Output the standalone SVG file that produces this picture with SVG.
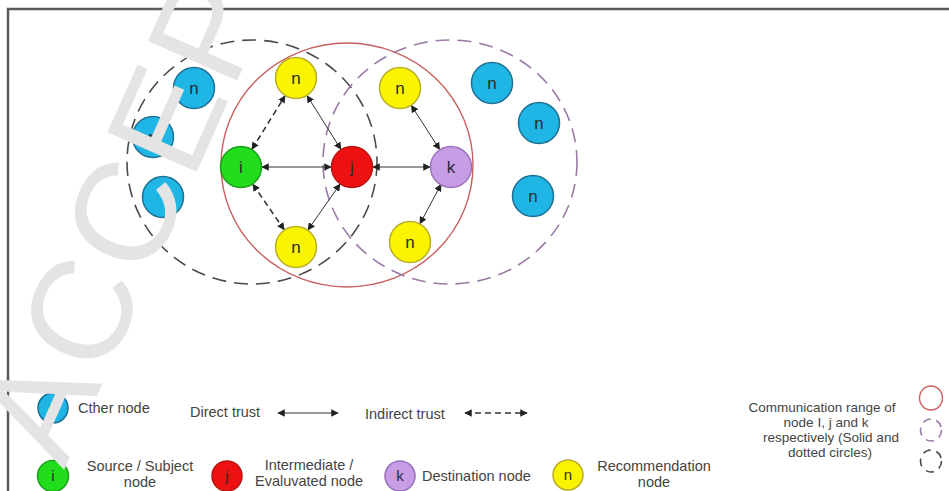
<svg xmlns="http://www.w3.org/2000/svg" width="949" height="491" viewBox="0 0 949 491">
  <defs>
    <marker id="head" viewBox="0 0 10 10" refX="9" refY="5" markerWidth="7.5" markerHeight="7.5" markerUnits="userSpaceOnUse" orient="auto-start-reverse">
      <path d="M0,0 L10,5 L0,10 z" fill="#222"/>
    </marker>
    <style>
      .frame { fill: none; stroke: #5a5a5a; stroke-width: 2.5; }
      .rng-i { fill: none; stroke: #c8605e; stroke-width: 1.4; }
      .rng-j { fill: none; stroke: #9a7aa6; stroke-width: 1.6; stroke-dasharray: 14 8; }
      .rng-k { fill: none; stroke: #4a4a4a; stroke-width: 1.6; stroke-dasharray: 14 8; }
      .direct { fill: none; stroke: #333; stroke-width: 1; marker-start: url(#head); marker-end: url(#head); }
      .indirect { fill: none; stroke: #333; stroke-width: 1.5; stroke-dasharray: 6 4; marker-start: url(#head); marker-end: url(#head); }
      .other { fill: #1fb6e6; stroke: #1f6f92; stroke-width: 1.5; }
      .rec { fill: #fbf400; stroke: #b9ad2a; stroke-width: 1.5; }
      .src { fill: #22dd1c; stroke: #1c9f1c; stroke-width: 1.5; }
      .mid { fill: #ee1111; stroke: #b81414; stroke-width: 1.5; }
      .dst { fill: #c79de6; stroke: #9c72bf; stroke-width: 1.5; }
      .lbl { font-family: "Liberation Sans", Arial, sans-serif; font-size: 17px; fill: #2b2b2b; text-anchor: middle; }
      .lbl-s { font-family: "Liberation Sans", Arial, sans-serif; font-size: 15px; fill: #2b2b2b; text-anchor: middle; }
      .txt { font-family: "Liberation Sans", Arial, sans-serif; font-size: 14.5px; fill: #444; }
      .txt-r { font-family: "Liberation Sans", Arial, sans-serif; font-size: 13.5px; fill: #444; text-anchor: middle; }
      .ctr { text-anchor: middle; }
      .wm { font-family: "Liberation Sans", Arial, sans-serif; font-size: 142px; letter-spacing: 5px; fill: #e4e4e4; }
    </style>
  </defs>

  <rect width="949" height="491" fill="#ffffff"/>
  <!-- outer frame (open to the right and bottom) -->
  <rect class="frame" x="8" y="9" width="960" height="500"/>

  <!-- communication ranges -->
  <g id="ranges">
    <ellipse id="range-k" class="rng-k" cx="252" cy="162" rx="125" ry="122"/>
    <ellipse id="range-i" class="rng-i" cx="347" cy="165" rx="126" ry="122"/>
    <ellipse id="range-j" class="rng-j" cx="450" cy="162" rx="127" ry="122"/>
  </g>

  <!-- trust links -->
  <g id="connectors">
    <line class="direct" x1="262" y1="167" x2="331" y2="167"/>
    <line class="direct" x1="373" y1="167" x2="430" y2="167"/>
    <line class="direct" x1="307.2" y1="95.8" x2="340.8" y2="149.2"/>
    <line class="direct" x1="340" y1="184.2" x2="308" y2="229.8"/>
    <line class="indirect" x1="252" y1="149.1" x2="285" y2="95.9"/>
    <line class="indirect" x1="252.9" y1="184.3" x2="284.1" y2="229.7"/>
    <line class="direct" x1="411.4" y1="105.6" x2="439.6" y2="149.4"/>
    <line class="direct" x1="441" y1="184.5" x2="420" y2="223.6"/>
  </g>

  <!-- nodes -->
  <g id="other-1"><circle class="other" cx="194" cy="88" r="20.5"/><text class="lbl" x="194" y="94">n</text></g>
  <g id="other-2"><circle class="other" cx="153" cy="137" r="20.5"/><text class="lbl" x="153" y="143">n</text></g>
  <g id="other-3"><circle class="other" cx="163" cy="197" r="20.5"/></g>
  <g id="rec-top"><circle class="rec" cx="296" cy="78" r="20.5"/><text class="lbl" x="296" y="84">n</text></g>
  <g id="rec-bottom"><circle class="rec" cx="296" cy="247" r="20.5"/><text class="lbl" x="296" y="253">n</text></g>
  <g id="node-i"><circle class="src" cx="241" cy="167" r="20.5"/><text class="lbl" x="241" y="173">i</text></g>
  <g id="node-j"><circle class="mid" cx="352" cy="167" r="20.5"/><text class="lbl" x="352" y="173">j</text></g>
  <g id="node-k"><circle class="dst" cx="451" cy="167" r="20.5"/><text class="lbl" x="451" y="173">k</text></g>
  <g id="rec-top-right"><circle class="rec" cx="400" cy="88" r="20.5"/><text class="lbl" x="400" y="94">n</text></g>
  <g id="rec-bottom-right"><circle class="rec" cx="410" cy="242" r="20.5"/><text class="lbl" x="410" y="248">n</text></g>
  <g id="other-4"><circle class="other" cx="492" cy="83" r="20.5"/><text class="lbl" x="492" y="89">n</text></g>
  <g id="other-5"><circle class="other" cx="539" cy="123" r="20.5"/><text class="lbl" x="539" y="129">n</text></g>
  <g id="other-6"><circle class="other" cx="533" cy="196" r="20.5"/><text class="lbl" x="533" y="202">n</text></g>

  <!-- legend -->
  <g id="legend">
    <g id="key-other"><circle class="other" cx="53" cy="408" r="15"/><text class="lbl-s" x="53" y="413">n</text>
      <text class="txt" x="78" y="413">Cther node</text></g>
    <g id="key-direct"><text class="txt" x="190" y="417">Direct trust</text>
      <line class="direct" x1="278" y1="413" x2="338" y2="413"/></g>
    <g id="key-indirect"><text class="txt" x="365" y="419">Indirect trust</text>
      <line class="indirect" x1="465" y1="413" x2="527" y2="413"/></g>
    <g id="key-source"><circle class="src" cx="53" cy="476" r="15.5"/><text class="lbl-s" x="53" y="481">i</text>
      <text class="txt ctr" x="140" y="471">Source / Subject</text>
      <text class="txt ctr" x="140" y="487">node</text></g>
    <g id="key-mid"><circle class="mid" cx="227" cy="476" r="15"/><text class="lbl-s" x="227" y="481">j</text>
      <text class="txt ctr" x="309" y="470">Intermediate /</text>
      <text class="txt ctr" x="309" y="486">Evaluvated node</text></g>
    <g id="key-dest"><circle class="dst" cx="400" cy="476" r="15"/><text class="lbl-s" x="400" y="481">k</text>
      <text class="txt" x="422" y="481">Destination node</text></g>
    <g id="key-rec"><circle class="rec" cx="568" cy="475" r="15"/><text class="lbl-s" x="568" y="480">n</text>
      <text class="txt ctr" x="654" y="471">Recommendation</text>
      <text class="txt ctr" x="654" y="487">node</text></g>
    <g id="key-range">
      <text class="txt-r" x="822" y="412">Communication range of</text>
      <text class="txt-r" x="826" y="427">node I, j and k</text>
      <text class="txt-r" x="831" y="442">respectively (Solid and</text>
      <text class="txt-r" x="830" y="457">dotted circles)</text>
      <ellipse class="rng-i" cx="931" cy="398" rx="11.5" ry="12"/>
      <ellipse class="rng-j" cx="931" cy="430" rx="10.5" ry="11" style="stroke-dasharray: 8 6"/>
      <ellipse class="rng-k" cx="931" cy="461" rx="10.5" ry="11" style="stroke-dasharray: 8 6"/>
    </g>
  </g>

  <!-- watermark -->
  <text class="wm" transform="translate(64,470) rotate(-66)">ACCEP</text>
</svg>
